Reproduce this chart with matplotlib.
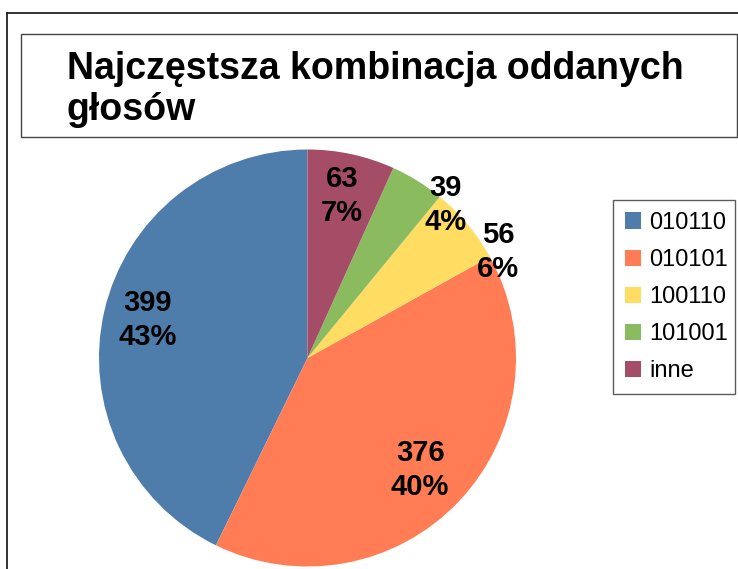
import matplotlib
matplotlib.use("Agg")
import matplotlib.pyplot as plt
from matplotlib.patches import Rectangle
from matplotlib.lines import Line2D

plt.rcParams["font.family"] = ["Liberation Sans", "DejaVu Sans"]

categories = ["010110", "010101", "100110", "101001", "inne"]
votes = [399, 376, 56, 39, 63]
colors = ["#4e7dab", "#ff7c54", "#ffdc62", "#8bbb5f", "#a54d66"]
title_lines = ["Najczęstsza kombinacja oddanych", "głosów"]

# where each value label sits, in pie radius units
label_pos = [(-0.765, 0.182), (0.54, -0.537), (0.914, 0.508), (0.66, 0.734), (0.165, 0.777)]

W, H = 738, 569
fig = plt.figure(figsize=(W / 100, H / 100), dpi=100)

# outer frame (top and left edges only visible)
fig.add_artist(Line2D([7 / W, 7 / W], [0, 1 - 13 / H], color="#222222", lw=1.3))
fig.add_artist(Line2D([7 / W, 1], [1 - 13 / H, 1 - 13 / H], color="#222222", lw=1.3))

# title box
fig.add_artist(Rectangle((21 / W, 1 - 137 / H), (737 - 21) / W, (137 - 34) / H,
                         transform=fig.transFigure, fill=False, edgecolor="#444444", lw=1.0))
fig.text(67 / W, 1 - 79 / H, title_lines[0], fontsize=27, fontweight="bold",
         ha="left", va="baseline")
fig.text(67 / W, 1 - 120 / H, title_lines[1], fontsize=27, fontweight="bold",
         ha="left", va="baseline")

cx, cy, r = 307.5, 358, 208.5
ax = fig.add_axes([(cx - r) / W, (H - cy - r) / H, 2 * r / W, 2 * r / H])
wedges, _ = ax.pie(votes, colors=colors, startangle=90, counterclock=True,
                   radius=1, wedgeprops=dict(linewidth=0))
ax.set_xlim(-1, 1)
ax.set_ylim(-1, 1)
ax.set_aspect("equal")
ax.axis("off")

total = sum(votes)
for v, (x, y) in zip(votes, label_pos):
    pct = round(v / total * 100)
    ax.text(x, y, f"{v}\n{pct}%", ha="center", va="center", fontsize=21,
            fontweight="bold", linespacing=1.3, clip_on=False)

leg = fig.legend(wedges, categories, loc="upper left",
                 bbox_to_anchor=(613 / W, 1 - 200 / H, (735 - 613) / W, 0.0),
                 mode="expand", fontsize=17, frameon=True, fancybox=False,
                 borderpad=0.5, labelspacing=0.64, handlelength=0.68,
                 handleheight=0.68, handletextpad=0.34, borderaxespad=0)
leg.get_frame().set_edgecolor("#333333")
leg.get_frame().set_linewidth(1.0)

fig.savefig("out.png", dpi=100)
